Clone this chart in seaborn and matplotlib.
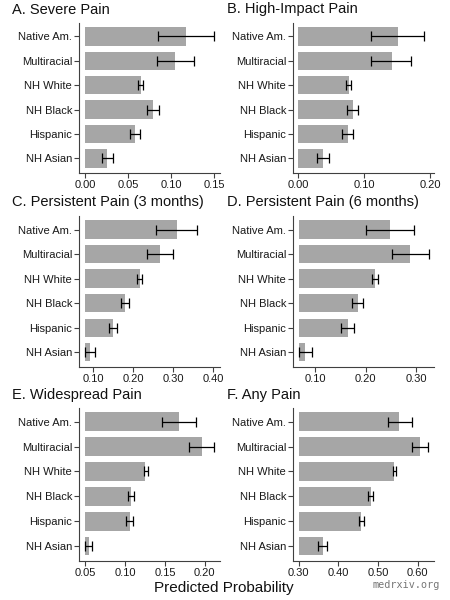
import numpy as np
import matplotlib
matplotlib.use("Agg")
import matplotlib.pyplot as plt
import seaborn as sns

# Groups (top to bottom)
groups = ["Native Am.", "Multiracial", "NH White", "NH Black", "Hispanic", "NH Asian"]

titles = ["A. Severe Pain", "B. High-Impact Pain", "C. Persistent Pain (3 months)",
          "D. Persistent Pain (6 months)", "E. Widespread Pain", "F. Any Pain"]

# Predicted probabilities and 95% CI bounds
severe = [0.117, 0.105, 0.065, 0.079, 0.058, 0.025]
severe_lo = [0.085, 0.084, 0.062, 0.072, 0.052, 0.019]
severe_hi = [0.150, 0.127, 0.067, 0.086, 0.064, 0.032]

high_impact = [0.151, 0.142, 0.077, 0.083, 0.075, 0.038]
high_impact_lo = [0.110, 0.111, 0.073, 0.074, 0.066, 0.029]
high_impact_hi = [0.191, 0.171, 0.080, 0.091, 0.083, 0.047]

persist3 = [0.309, 0.268, 0.216, 0.179, 0.149, 0.092]
persist3_lo = [0.258, 0.234, 0.210, 0.168, 0.140, 0.080]
persist3_hi = [0.360, 0.299, 0.222, 0.190, 0.158, 0.103]

persist6 = [0.248, 0.288, 0.218, 0.184, 0.164, 0.080]
persist6_lo = [0.201, 0.253, 0.213, 0.172, 0.151, 0.067]
persist6_hi = [0.297, 0.326, 0.224, 0.195, 0.177, 0.094]

widespread = [0.168, 0.196, 0.125, 0.107, 0.106, 0.054]
widespread_lo = [0.146, 0.180, 0.123, 0.103, 0.101, 0.049]
widespread_hi = [0.189, 0.212, 0.128, 0.111, 0.110, 0.058]

any_pain = [0.554, 0.605, 0.541, 0.483, 0.458, 0.361]
any_pain_lo = [0.524, 0.585, 0.538, 0.475, 0.451, 0.350]
any_pain_hi = [0.585, 0.627, 0.545, 0.488, 0.465, 0.371]

# bar origin of each panel
bases = [0.0, 0.0, 0.08, 0.067, 0.05, 0.30]

xticks = [[0, 0.05, 0.10, 0.15], [0, 0.10, 0.20], [0.10, 0.20, 0.30, 0.40],
          [0.10, 0.20, 0.30], [0.05, 0.10, 0.15, 0.20], [0.30, 0.40, 0.50, 0.60]]
xlims = [(-0.0073, 0.157), (-0.0076, 0.206), (0.064, 0.417),
         (0.0556, 0.336), (0.042, 0.219), (0.2858, 0.641)]

panels = [(severe, severe_lo, severe_hi), (high_impact, high_impact_lo, high_impact_hi),
          (persist3, persist3_lo, persist3_hi), (persist6, persist6_lo, persist6_hi),
          (widespread, widespread_lo, widespread_hi), (any_pain, any_pain_lo, any_pain_hi)]

sns.set_style("ticks")
plt.rcParams['font.family'] = ['Liberation Sans', 'DejaVu Sans']

W, H = 450, 600
fig = plt.figure(figsize=(4.5, 6), dpi=100)

# axes boxes in pixels: x0, x1, ytop, ybottom
boxes = [(79, 220, 23, 173), (293, 434, 23, 173),
         (79, 220, 216, 367), (293, 434, 216, 367),
         (79, 220, 408, 561), (293, 434, 408, 561)]
title_pos = [(12, 13.5), (227, 13.5), (12, 206), (227, 206), (12, 399), (227, 399)]

bar_color = "#a6a6a6"
spine_color = "#404040"

for i, (vals, lo, hi) in enumerate(panels):
    x0, x1, yt, yb = boxes[i]
    ax = fig.add_axes([x0 / W, 1 - yb / H, (x1 - x0) / W, (yb - yt) / H])
    vals = np.array(vals)
    lo = np.array(lo)
    hi = np.array(hi)
    base = bases[i]

    sns.barplot(x=vals - base, y=groups, left=base, orient="h", color=bar_color,
                saturation=1, width=0.75, errorbar=None, linewidth=0, ax=ax)
    ax.errorbar(x=vals, y=np.arange(len(groups)), xerr=[vals - lo, hi - vals],
                fmt="none", ecolor="black", elinewidth=0.9, capsize=3.5, capthick=0.9)

    ax.set_xlim(*xlims[i])
    ax.set_ylim(5.6, -0.55)
    ax.set_xticks(xticks[i])
    ax.set_xticklabels([f"{t:.2f}" for t in xticks[i]])
    ax.set_xlabel("")
    ax.set_ylabel("")
    sns.despine(ax=ax)
    for s in ["left", "bottom"]:
        ax.spines[s].set_color(spine_color)
        ax.spines[s].set_linewidth(0.8)
    ax.tick_params(axis="both", labelsize=8, colors=spine_color, labelcolor="#1a1a1a",
                   length=3.5, width=0.8, pad=1.5)

    tx, ty = title_pos[i]
    fig.text(tx / W, 1 - ty / H, titles[i], fontsize=10.5, ha="left", va="baseline",
             color="#111111")

fig.text(224 / W, 1 - 592 / H, "Predicted Probability", fontsize=11, ha="center",
         va="baseline", color="#111111")
fig.text(440 / W, 1 - 588 / H, "medrxiv.org", fontsize=7.3, ha="right", va="baseline",
         family="DejaVu Sans Mono", color="#777777")

fig.savefig("out.png", dpi=100)
